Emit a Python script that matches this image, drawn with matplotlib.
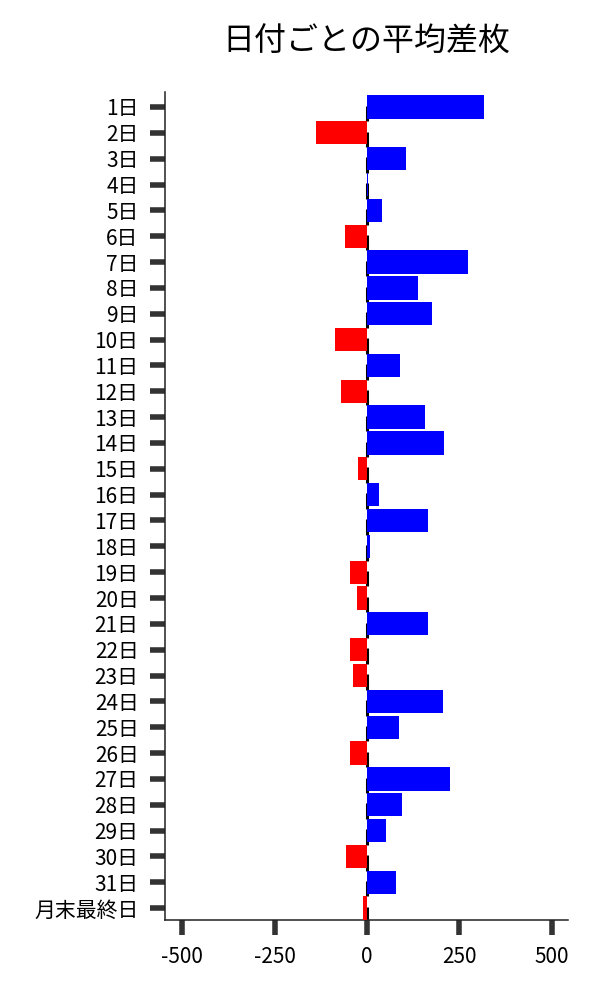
import matplotlib
matplotlib.use("Agg")
import matplotlib.pyplot as plt
import numpy as np

plt.rcParams['font.family'] = ['Noto Sans CJK JP', 'DejaVu Sans']
plt.rcParams['axes.unicode_minus'] = False

categories = [f"{d}日" for d in range(1, 32)] + ["月末最終日"]
values = [317, -138, 105, 4, 42, -60, 273, 138, 176, -87, 89, -70, 157, 209,
          -24, 33, 165, 8, -46, -27, 165, -46, -38, 206, 87, -46, 225, 95,
          51, -57, 78, -11]
xticks = [-500, -250, 0, 250, 500]

fig = plt.figure(figsize=(6, 10), dpi=100)
ax = fig.add_axes([0.275, 0.08, 0.672, 0.828])

y = np.arange(len(categories))
colors = ['blue' if v >= 0 else 'red' for v in values]
ax.barh(y, values, height=0.9, color=colors, zorder=3)
ax.vlines(np.zeros(len(y)) - 1.0, y - 0.05, y + 0.55, color='black', lw=2.2, zorder=2)

ax.set_yticks(y)
ax.set_yticklabels(categories, fontsize=15)
ax.set_xticks(xticks)
ax.set_xticklabels([str(t) for t in xticks], fontsize=15)
ax.set_xlim(-547, 545)
ax.set_ylim(len(categories) - 0.54, -0.58)

ax.tick_params(axis='both', length=11, width=4, color='#333333', pad=8)
for s in ['top', 'right']:
    ax.spines[s].set_visible(False)
for s in ['left', 'bottom']:
    ax.spines[s].set_linewidth(1.1)
    ax.spines[s].set_color('#222222')

ax.set_title("日付ごとの平均差枚", fontsize=23, pad=30)

fig.savefig("out.png", dpi=100)
